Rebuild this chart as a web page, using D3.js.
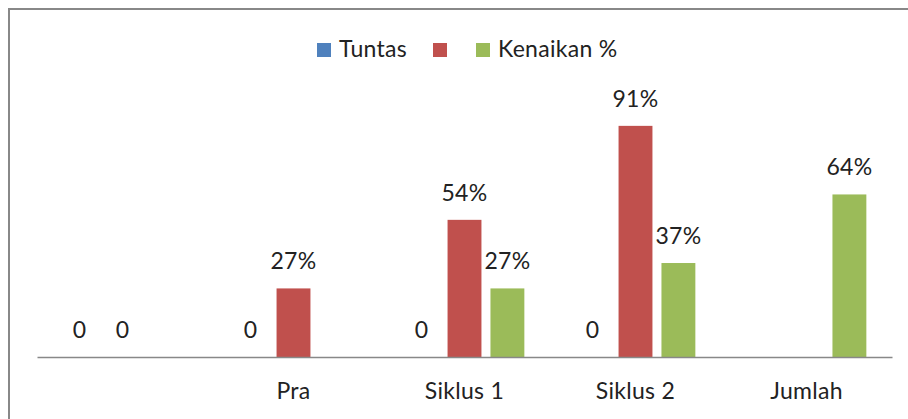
<html>
<head>
<script src="https://cdnjs.cloudflare.com/ajax/libs/d3/7.8.5/d3.min.js"></script>
<style>
body { margin: 0; background: white; }
svg text { font-family: Lato, "Open Sans", sans-serif; fill: #222; letter-spacing: 0.3px; }
</style>
</head>
<body>
<svg id="canvas" width="908" height="419"></svg>
<script>
var categories = ["", "Pra", "Siklus 1", "Siklus 2", "Jumlah"];
var series = ["Tuntas", "", "Kenaikan %"];
var colors = ["#4F81BD", "#C0504D", "#9BBB59"];
// null = no bar / no label
var tuntas   = [0, 0, 0, 0, null];
var kedua    = [0, 0.27, 0.54, 0.91, null];
var kenaikan = [null, null, 0.27, 0.37, 0.64];
var values = [tuntas, kedua, kenaikan];

var svg = d3.select("#canvas");

// chart border (right/bottom run off the picture)
svg.append("rect")
    .attr("x", 9).attr("y", 9)
    .attr("width", 920).attr("height", 440)
    .attr("fill", "white")
    .attr("stroke", "#888")
    .attr("stroke-width", 2);

var x0 = d3.scaleBand().domain(categories.map(function(d, i){ return i; }))
    .range([37, 892]).paddingInner(0.3).paddingOuter(0.15);
var x1 = d3.scaleBand().domain([0, 1, 2])
    .range([0, x0.bandwidth()]).paddingInner(0.21);
var y = d3.scaleLinear().domain([0, 1]).range([357, 103]);

var groups = svg.selectAll("g.cat").data(categories).enter().append("g")
    .attr("class", "cat")
    .attr("transform", function(d, i){ return "translate(" + x0(i) + ",0)"; });

groups.each(function(c, ci) {
    var g = d3.select(this);
    values.forEach(function(vals, si) {
        var v = vals[ci];
        if (v === null) return;
        if (v > 0) {
            g.append("rect")
                .attr("x", x1(si))
                .attr("y", y(v))
                .attr("width", x1.bandwidth())
                .attr("height", y(0) - y(v))
                .attr("fill", colors[si]);
        }
        g.append("text")
            .attr("x", x1(si) + x1.bandwidth() / 2)
            .attr("y", y(v) - 19)
            .attr("text-anchor", "middle")
            .style("font-size", "23px")
            .text(v === 0 ? "0" : Math.round(v * 100) + "%");
    });
});

// axis
var axis = svg.append("g")
    .attr("transform", "translate(0," + y(0) + ")")
    .call(d3.axisBottom(x0).tickSize(0).tickPadding(26).tickFormat(function(i){ return categories[i]; }));
axis.select(".domain").attr("stroke", "#888").attr("stroke-width", 1.5);
axis.selectAll("text").style("font-size", "23px").attr("fill", "#222");

// legend
var legendX = [317, 433, 476];
var leg = svg.append("g");
series.forEach(function(s, i) {
    leg.append("rect")
        .attr("x", legendX[i]).attr("y", 43)
        .attr("width", 14).attr("height", 14)
        .attr("fill", colors[i]);
    leg.append("text")
        .attr("x", legendX[i] + 22).attr("y", 57)
        .style("font-size", "23px")
        .text(s);
});
</script>
</body>
</html>
